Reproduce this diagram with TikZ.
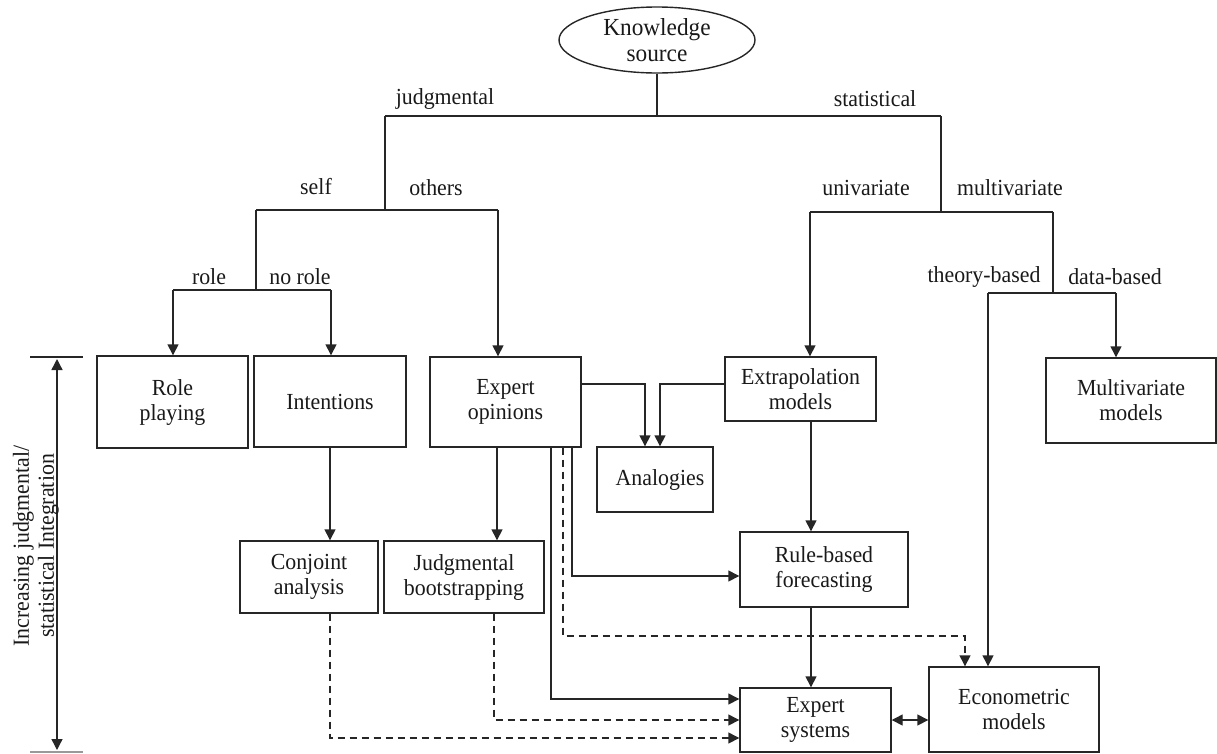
\documentclass[tikz,border=0pt]{standalone}
\usepackage{fontspec}
\setmainfont{Liberation Serif}[FakeStretch=0.95]
\usetikzlibrary{arrows.meta,shapes.geometric}
\begin{document}
\begin{tikzpicture}[x=1pt,y=-1pt,
  ln/.style={draw=black!85, line width=1.4pt},
  arr/.style={ln, -{Triangle[length=11pt,width=11pt]}},
  darr/.style={ln, {Triangle[length=11pt,width=11pt]}-{Triangle[length=11pt,width=11pt]}},
  dsh/.style={arr, dash pattern=on 7pt off 5pt},
  box/.style={draw=black!85, line width=1.4pt, rectangle, inner sep=0pt, align=center,
    font=\fontsize{23}{25}\selectfont, text=black!90},
  lbl/.style={inner sep=0pt, font=\fontsize{23}{25}\selectfont, text=black!90},
]
\useasboundingbox (0,0) rectangle (1217,753);
\clip (0,0) rectangle (1217,753);

% root
\node[draw=black!85, line width=1.4pt, ellipse, minimum width=196pt, minimum height=66pt, inner sep=0pt,
  align=center, font=\fontsize{24.5}{26}\selectfont, text=black!90] (ks) at (657,40) {Knowledge\\source};

% boxes
\node[box, minimum width=151pt, minimum height=92pt] (role) at (172.5,402) {Role\\playing};
\node[box, minimum width=152pt, minimum height=91pt] (intent) at (330,401.5) {Intentions};
\node[box, minimum width=151pt, minimum height=90pt] (expert) at (505.5,402) {Expert\\opinions};
\node[box, minimum width=116pt, minimum height=65pt] (analog) at (655,479.5) {\hspace*{10pt}Analogies};
\node[box, minimum width=151pt, minimum height=64pt] (extrap) at (800.5,389) {Extrapolation\\models};
\node[box, minimum width=170pt, minimum height=85pt] (multi) at (1131,400.5) {Multivariate\\models};
\node[box, minimum width=138pt, minimum height=72pt] (conj) at (309,577) {Conjoint\\analysis};
\node[box, minimum width=160pt, minimum height=72pt] (boot) at (464,577) {Judgmental\\bootstrapping};
\node[box, minimum width=168pt, minimum height=75pt] (rule) at (824,569.5) {Rule-based\\forecasting};
\node[box, minimum width=151pt, minimum height=64pt] (esys) at (815.5,720) {Expert\\systems};
\node[box, minimum width=170pt, minimum height=85pt] (econ) at (1014,709.5) {Econometric\\models};

% branch labels
\node[lbl] (ljud) at (445,99) {judgmental};
\node[lbl] (lsta) at (875,99) {statistical};
\node[lbl] (lself) at (316,187) {self};
\node[lbl] (loth) at (436,188) {others};
\node[lbl] (luni) at (866,188) {univariate};
\node[lbl] (lmul) at (1010,188) {multivariate};
\node[lbl] (lrole) at (209,277) {role};
\node[lbl] (lnor) at (300,277) {no role};
\node[lbl] (lthe) at (984,277) {theory-based};
\node[lbl] (ldat) at (1115,277) {data-based};

% tree coordinates
\coordinate (jL) at (385,116);
\coordinate (sR) at (941,116);
\coordinate (jB) at (385,210);
\coordinate (sf) at (256,210);
\coordinate (ot) at (498,210);
\coordinate (sfB) at (256,290);
\coordinate (ro) at (173,290);
\coordinate (nr) at (331,290);
\coordinate (sB) at (941,212);
\coordinate (un) at (810,212);
\coordinate (mu) at (1053,212);
\coordinate (muB) at (1053,293);
\coordinate (th) at (988,293);
\coordinate (da) at (1116,293);

\draw[ln] (ks.south) -- (ks.south |- jL);
\draw[ln] (jL) -- (sR);
\draw[ln] (jL) -- (jB);
\draw[ln] (sf) -- (ot);
\draw[arr] (ot) -- (ot |- expert.north);
\draw[ln] (sf) -- (sfB);
\draw[ln] (ro) -- (nr);
\draw[arr] (ro) -- (ro |- role.north);
\draw[arr] (nr) -- (nr |- intent.north);
\draw[ln] (sR) -- (sB);
\draw[ln] (un) -- (mu);
\draw[arr] (un) -- (un |- extrap.north);
\draw[ln] (mu) -- (muB);
\draw[ln] (th) -- (da);
\draw[arr] (th) -- (th |- econ.north);
\draw[arr] (da) -- (da |- multi.north);

% analogies
\coordinate (a1) at (645,384);
\coordinate (a2) at (660,384);
\draw[arr] (expert.east |- a1) -- (a1) -- (a1 |- analog.north);
\draw[arr] (extrap.west |- a2) -- (a2) -- (a2 |- analog.north);

% vertical flows
\coordinate (iv) at (330,0);
\coordinate (ev) at (497,0);
\coordinate (xv) at (811,0);
\draw[arr] (intent.south -| iv) -- (conj.north -| iv);
\draw[arr] (expert.south -| ev) -- (boot.north -| ev);
\draw[arr] (extrap.south -| xv) -- (rule.north -| xv);
\draw[arr] (rule.south -| xv) -- (esys.north -| xv);

% expert opinions to rule-based and expert systems
\coordinate (r1) at (572,576);
\coordinate (s1) at (551,699);
\draw[arr] (expert.south -| r1) -- (r1) -- (r1 -| rule.west);
\draw[arr] (expert.south -| s1) -- (s1) -- (s1 -| esys.west);

% dashed
\coordinate (d1) at (563,636);
\coordinate (d2) at (965,636);
\draw[dsh] (expert.south -| d1) -- (d1) -- (d2) -- (d2 |- econ.north);
\coordinate (d3) at (494,720);
\draw[dsh] (boot.south -| d3) -- (d3) -- (d3 -| esys.west);
\coordinate (d4) at (330,738);
\draw[dsh] (conj.south -| d4) -- (d4) -- (d4 -| esys.west);

% expert systems <-> econometric
\draw[darr] (esys.east) -- (esys.east -| econ.west);

% side axis
\coordinate (t1) at (30,357);
\coordinate (t2) at (83,357);
\coordinate (b1) at (30,752);
\coordinate (b2) at (83,752);
\draw[ln] (t1) -- (t2);
\draw[draw=black!40, line width=1.4pt] (b1) -- (b2);
\coordinate (ax1) at (57,359);
\coordinate (ax2) at (57,750);
\draw[darr] (ax1) -- (ax2);
\node[lbl, rotate=90, align=center] (axl) at (36,546) {Increasing judgmental/\\statistical Integration};
\end{tikzpicture}
\end{document}
